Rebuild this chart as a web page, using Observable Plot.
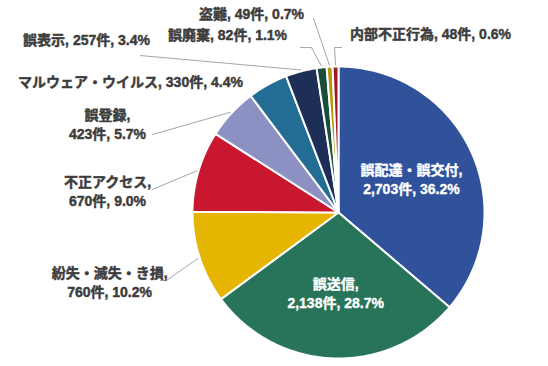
<!DOCTYPE html>
<html><head><meta charset="utf-8">
<script src="https://cdn.jsdelivr.net/npm/d3@7"></script>
<script src="https://cdn.jsdelivr.net/npm/@observablehq/plot@0.6"></script>
<style>body{margin:0;background:#fff;} svg{display:block;}</style>
</head><body><div id="chart"></div>
<script>
// ---- data ----
const categories = ["誤配達・誤交付","誤送信","紛失・滅失・き損","不正アクセス","誤登録","マルウェア・ウイルス","誤表示","誤廃棄","盗難","内部不正行為"];
const counts = [2703,2138,760,670,423,330,257,82,49,48];
const percents = [36.2,28.7,10.2,9.0,5.7,4.4,3.4,1.1,0.7,0.6];
const colors = ["#30529A","#28745A","#E6B502","#C8172F","#8C90C2","#236D95","#1E2F57","#1B4E3A","#B8960A","#A01A24"];

// ---- label layout (pie-radius units, centre at origin) ----
const twoLine = [true,true,true,true,true,false,false,false,false,false];
const inside = [true,true,false,false,false,false,false,false,false,false];
const labelX = [null,null,-1.568,-1.582,-1.582,-1.425,-1.726,-0.760,-0.596,0.630];
const labelY = [null,null,-0.473,0.151,0.610,0.904,1.192,1.226,1.370,1.233];
const leaderPts = [null,null,
  [[-1.219,-0.466],[-1.178,-0.466]],
  [[-1.274,0.158]],
  [[-1.274,0.534]],
  null,
  [[-1.356,1.075]],
  [[-0.260,1.130],[-0.185,1.130]],
  [[-0.171,1.329]],
  [[0.021,1.130],[-0.027,1.130]]
];

const total = d3.sum(counts);
const fmt = d3.format(",");
const slices = [];
const labels = [];
const leaders = [];
let acc = 0;
categories.forEach((name, i) => {
  const a0 = acc / total * 2 * Math.PI;
  acc += counts[i];
  const a1 = acc / total * 2 * Math.PI;
  slices.push({name, x: 0, y: 0});
  const n = Math.max(2, Math.ceil((a1 - a0) / (Math.PI / 360)));
  for (let k = 0; k <= n; k++) {
    const a = a0 + (a1 - a0) * k / n;
    slices.push({name, x: Math.sin(a), y: Math.cos(a)});
  }
  slices.push({name, x: 0, y: 0});
  const am = (a0 + a1) / 2;
  const text = name + "," + (twoLine[i] ? "\n" : " ") + fmt(counts[i]) + "件, " + percents[i].toFixed(1) + "%";
  if (inside[i]) {
    labels.push({text, x: 0.55 * Math.sin(am), y: 0.55 * Math.cos(am), inside: true});
  } else {
    labels.push({text, x: labelX[i], y: labelY[i], inside: false});
  }
  if (leaderPts[i]) {
    leaderPts[i].forEach(p => leaders.push({name, x: p[0], y: p[1]}));
    leaders.push({name, x: 1.01 * Math.sin(am), y: 1.01 * Math.cos(am)});
  }
});

const R = 146, cx = 338, cy = 212, W = 548, H = 366;
const font = "'Liberation Sans', Arial, 'Noto Sans CJK JP', sans-serif";
const chart = Plot.plot({
  width: W, height: H, margin: 0,
  x: {domain: [-cx / R, (W - cx) / R], axis: null},
  y: {domain: [-(H - cy) / R, cy / R], axis: null},
  color: {domain: categories, range: colors},
  style: {fontFamily: font, background: "#fff"},
  marks: [
    Plot.line(leaders, {x: "x", y: "y", z: "name", stroke: "#A6A6A6", strokeWidth: 1}),
    Plot.line(slices, {x: "x", y: "y", z: "name", fill: "name", stroke: "#fff", strokeWidth: 2, strokeLinejoin: "round"}),
    Plot.text(labels.filter(d => !d.inside), {x: "x", y: "y", text: "text", fill: "#3C3C3C", stroke: "#3C3C3C", strokeWidth: 0.45, fontSize: 14, fontWeight: "bold", lineHeight: 1.35, textAnchor: "middle"}),
    Plot.text(labels.filter(d => d.inside), {x: "x", y: "y", text: "text", fill: "#fff", stroke: "#fff", strokeWidth: 0.35, fontSize: 14, fontWeight: "bold", lineHeight: 1.35, textAnchor: "middle"})
  ]
});
document.getElementById("chart").append(chart);
</script>
</body></html>
